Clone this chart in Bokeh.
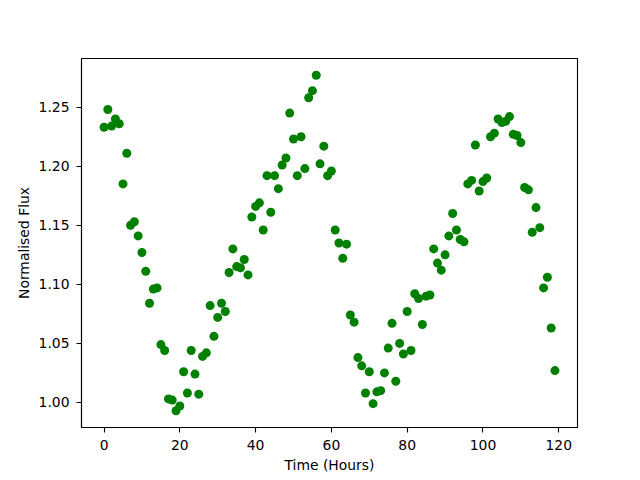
from bokeh.plotting import figure
from bokeh.models import Range1d, ColumnDataSource, FixedTicker, CustomJSTickFormatter
from bokeh.embed import file_html
from bokeh.resources import INLINE

hours = list(range(120))
flux = [
    1.233, 1.248, 1.234, 1.240, 1.236, 1.185, 1.211, 1.150, 1.153, 1.141,
    1.127, 1.111, 1.084, 1.096, 1.097, 1.049, 1.044, 1.003, 1.002, 0.993,
    0.997, 1.026, 1.008, 1.044, 1.024, 1.007, 1.039, 1.042, 1.082, 1.056,
    1.072, 1.084, 1.077, 1.110, 1.130, 1.115, 1.114, 1.121, 1.108, 1.157,
    1.166, 1.169, 1.146, 1.192, 1.161, 1.192, 1.181, 1.201, 1.207, 1.245,
    1.223, 1.192, 1.225, 1.198, 1.258, 1.264, 1.277, 1.202, 1.217, 1.192,
    1.196, 1.146, 1.135, 1.122, 1.134, 1.074, 1.068, 1.038, 1.031, 1.008,
    1.026, 0.999, 1.009, 1.010, 1.025, 1.046, 1.067, 1.018, 1.050, 1.041,
    1.077, 1.044, 1.092, 1.088, 1.066, 1.090, 1.091, 1.130, 1.118, 1.112,
    1.125, 1.141, 1.160, 1.146, 1.138, 1.136, 1.185, 1.188, 1.218, 1.179,
    1.187, 1.190, 1.225, 1.228, 1.240, 1.237, 1.238, 1.242, 1.227, 1.226,
    1.220, 1.182, 1.180, 1.144, 1.165, 1.148, 1.097, 1.106, 1.063, 1.027,
]
x_ticks = [0, 20, 40, 60, 80, 100, 120]
y_ticks = [1.00, 1.05, 1.10, 1.15, 1.20, 1.25]

def padded(vals, frac=0.05):
    lo, hi = min(vals), max(vals)
    m = (hi - lo) * frac
    return lo - m, hi + m

xlo, xhi = padded(hours)
ylo, yhi = padded(flux)

p = figure(width=640, height=480, output_backend="svg", toolbar_location=None,
           x_range=Range1d(xlo, xhi), y_range=Range1d(ylo, yhi),
           min_border_left=81, min_border_right=63, min_border_top=58,
           min_border_bottom=53)

src = ColumnDataSource(dict(x=hours, y=flux))
p.scatter("x", "y", source=src, size=9, fill_color="#008000",
          line_color="#008000", line_width=0)

p.grid.visible = False
p.outline_line_color = "black"
p.outline_line_width = 1.1
p.outline_line_alpha = 1.0
p.background_fill_color = "white"
p.border_fill_color = "white"

p.xaxis.ticker = FixedTicker(ticks=x_ticks)
p.yaxis.ticker = FixedTicker(ticks=y_ticks)
p.yaxis.formatter = CustomJSTickFormatter(code="return tick.toFixed(2);")
p.xaxis.axis_label = "Time (Hours)"
p.yaxis.axis_label = "Normalised Flux"

for ax in (p.xaxis, p.yaxis):
    ax.axis_line_color = "black"
    ax.axis_line_width = 1.1
    ax.major_tick_line_color = "black"
    ax.major_tick_line_width = 1.1
    ax.major_tick_out = 5
    ax.major_tick_in = 0
    ax.minor_tick_line_color = None
    ax.major_label_text_font = "DejaVu Sans"
    ax.major_label_text_font_size = "13.9px"
    ax.major_label_text_color = "black"
    ax.axis_label_text_font = "DejaVu Sans"
    ax.axis_label_text_font_size = "13.9px"
    ax.axis_label_text_font_style = "normal"
    ax.axis_label_text_color = "black"
    ax.major_label_standoff = 7
    ax.axis_label_standoff = 4

open("out.html", "w").write(file_html(p, INLINE))
